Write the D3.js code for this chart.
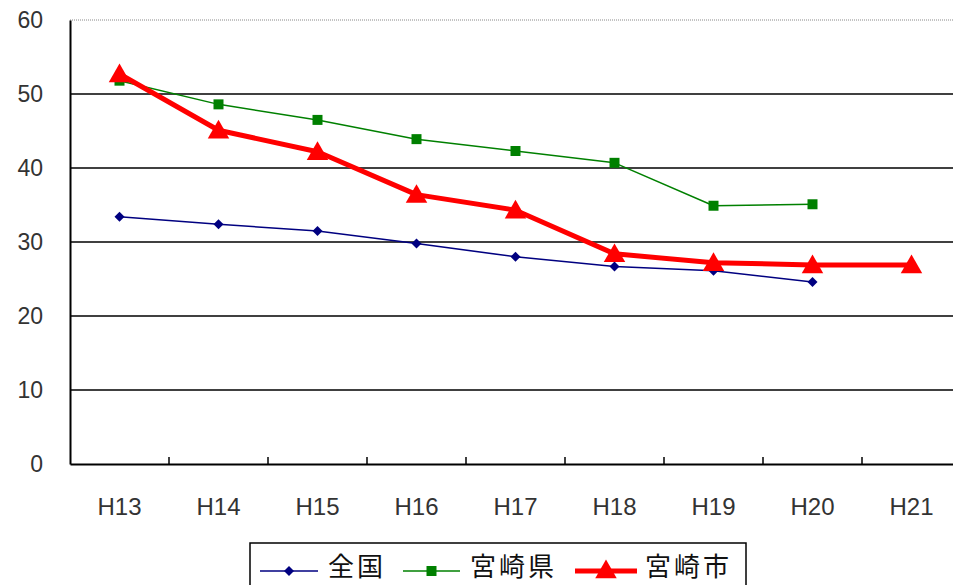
<!DOCTYPE html>
<html><head><meta charset="utf-8">
<script src="https://cdn.jsdelivr.net/npm/d3@7"></script>
<style>html,body{margin:0;padding:0;background:#fff;overflow:hidden;}</style>
</head><body>
<svg id="c" width="953" height="585"></svg>
<script>
const categories = ["H13","H14","H15","H16","H17","H18","H19","H20","H21"];
const zenkoku = [33.4, 32.4, 31.5, 29.8, 28.0, 26.7, 26.1, 24.6, null];
const kenValues = [51.8, 48.6, 46.5, 43.9, 42.3, 40.7, 34.9, 35.1, null];
const shiValues = [52.7, 45.1, 42.2, 36.4, 34.3, 28.4, 27.2, 26.9, 26.9];
const seriesNames = ["全国", "宮崎県", "宮崎市"];
const yTicks = [0, 10, 20, 30, 40, 50, 60];

(function () {
const svg = d3.select("#c");
const pLeft = 70, pRight = 961, pTop = 20, pBottom = 464;
const x = d3.scaleBand().domain(categories).range([pLeft, pRight]).paddingInner(0).paddingOuter(0);
const y = d3.scaleLinear().domain([0, 60]).range([pBottom, pTop]);
const cx = c => x(c) + x.bandwidth() / 2;
const font = "'Liberation Sans', Arial, sans-serif";

// gridlines
svg.append("g").selectAll("line").data(yTicks.filter(t => t > 0 && t < 60)).join("line")
  .attr("x1", pLeft).attr("x2", 953).attr("y1", d => y(d)).attr("y2", d => y(d))
  .attr("stroke", "#000").attr("stroke-width", 1.5);
svg.append("line").attr("x1", pLeft).attr("x2", 953).attr("y1", y(60)).attr("y2", y(60))
  .attr("stroke", "#888").attr("stroke-width", 1).attr("stroke-dasharray", "1,1");

// y axis
const yAxis = svg.append("g").attr("transform", `translate(${pLeft},0)`)
  .call(d3.axisLeft(y).tickValues(yTicks).tickSize(0).tickPadding(27));
yAxis.select(".domain").attr("stroke", "#000").attr("stroke-width", 2);
yAxis.selectAll("text").attr("font-family", font).attr("font-size", 23).attr("fill", "#333");

// x axis
const xAxis = svg.append("g").attr("transform", `translate(0,${pBottom})`)
  .call(d3.axisBottom(x).tickSize(0).tickPadding(34));
xAxis.select(".domain").attr("stroke", "#000").attr("stroke-width", 2);
xAxis.selectAll("text").attr("font-family", font).attr("font-size", 24).attr("fill", "#333");
svg.append("g").selectAll("line").data(categories.slice(1)).join("line")
  .attr("x1", d => x(d)).attr("x2", d => x(d)).attr("y1", pBottom).attr("y2", pBottom - 7)
  .attr("stroke", "#000").attr("stroke-width", 1.5);

const series = [
  {name: seriesNames[0], values: zenkoku, color: "#000080", width: 1.5, sym: d3.symbolSquare, size: 50, rot: 45},
  {name: seriesNames[1], values: kenValues, color: "#008000", width: 1.5, sym: d3.symbolSquare, size: 100, rot: 0},
  {name: seriesNames[2], values: shiValues, color: "#ff0000", width: 5, sym: d3.symbolTriangle, size: 200, rot: 0}
];
const line = d3.line().defined(d => d.v != null).x(d => cx(d.c)).y(d => y(d.v));

series.forEach(s => {
  const pts = categories.map((c, i) => ({c, v: s.values[i]}));
  svg.append("path").datum(pts).attr("d", line).attr("fill", "none")
    .attr("stroke", s.color).attr("stroke-width", s.width).attr("stroke-linejoin", "round");
  svg.append("g").selectAll("path").data(pts.filter(d => d.v != null)).join("path")
    .attr("d", d3.symbol().type(s.sym).size(s.size))
    .attr("transform", d => `translate(${cx(d.c)},${y(d.v) + (s.sym === d3.symbolTriangle ? 2 : 0)}) rotate(${s.rot})`)
    .attr("fill", s.color);
});

// legend
const lg = svg.append("g");
lg.append("rect").attr("x", 250).attr("y", 543).attr("width", 496).attr("height", 60)
  .attr("fill", "#fff").attr("stroke", "#000").attr("stroke-width", 1.5);
const legendPos = [{x1: 260, x2: 318, tx: 328}, {x1: 403, x2: 460, tx: 470}, {x1: 575, x2: 637, tx: 645}];
series.forEach((s, i) => {
  const p = legendPos[i];
  lg.append("line").attr("x1", p.x1).attr("x2", p.x2).attr("y1", 571).attr("y2", 571)
    .attr("stroke", s.color).attr("stroke-width", s.width);
  lg.append("path").attr("d", d3.symbol().type(s.sym).size(s.size))
    .attr("transform", `translate(${(p.x1 + p.x2) / 2},${571 + (s.sym === d3.symbolTriangle ? 1 : 0)}) rotate(${s.rot})`)
    .attr("fill", s.color);
  lg.append("text").attr("x", p.tx).attr("y", 567).attr("dy", "0.36em")
    .attr("font-family", "'Noto Sans CJK JP', sans-serif").attr("font-size", 26)
    .attr("letter-spacing", 3)
    .attr("fill", "#111").text(s.name);
});
})();
</script>
</body></html>
